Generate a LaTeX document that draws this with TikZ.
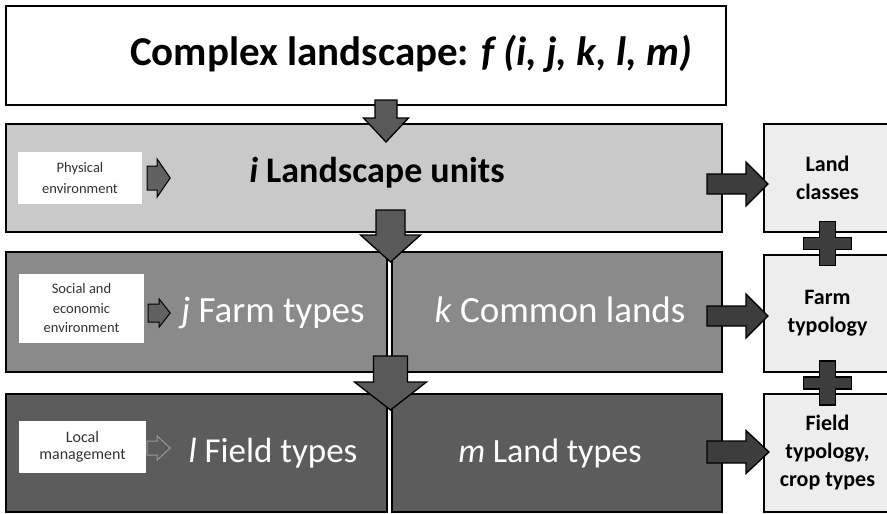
\documentclass[tikz,border=0pt]{standalone}
\usepackage{fontspec}
\setmainfont{Carlito}
\usepackage{tikz}
\usetikzlibrary{positioning, calc}

\newcommand{\blockdown}[6]{%
    \draw[#6] let \p1=(#1), \p2=(#2) in
        (\x2-#3,\y1) -- (\x2+#3,\y1) -- (\x2+#3,\y2+#5) -- (\x2+#4,\y2+#5)
        -- (\x2,\y2) -- (\x2-#4,\y2+#5) -- (\x2-#3,\y2+#5) -- cycle;}
\newcommand{\blockright}[6]{%
    \draw[#6] let \p1=(#1), \p2=(#2) in
        (\x1,\y2+#3) -- (\x2-#5,\y2+#3) -- (\x2-#5,\y2+#4) -- (\x2,\y2)
        -- (\x2-#5,\y2-#4) -- (\x2-#5,\y2-#3) -- (\x1,\y2-#3) -- cycle;}

\tikzset{
    plussign/.pic={
        \draw[line width=1.3pt, fill=black!76] (-8,-22) -- (8,-22) -- (8,-6) -- (24,-6)
            -- (24,6) -- (8,6) -- (8,22) -- (-8,22) -- (-8,6) -- (-24,6) -- (-24,-6)
            -- (-8,-6) -- cycle;
    }
}

\begin{document}
\begin{tikzpicture}[x=1pt, y=-1pt
    , box/.style={draw, line width=2pt, anchor=north west, inner sep=0pt}
    , tag/.style={fill=white, inner sep=0pt, align=center, text=black!80,
        font=\fontsize{14.5}{19.5}\selectfont}
    , outbox/.style={box, fill=black!7, align=center, font=\bfseries\fontsize{22}{28}\selectfont}
    , downarr/.style={draw, line width=1.3pt, fill=black!65}
    , sidearr/.style={draw, line width=1.3pt, fill=black!76}
    , smallarr/.style={draw, line width=1pt, fill=black!62}
    ]

    \useasboundingbox (0,0) rectangle (887,514);
    \clip (0,0) rectangle (887,514);
    \fill[white] (0,0) rectangle (887,514);

    \node[box, fill=white, minimum width=720pt, minimum height=99pt] (top) at (5,5) {};
    \node[box, fill=black!21, minimum width=716pt, minimum height=108pt] (units) at (5,123) {};
    \node[box, fill=black!46, minimum width=381pt, minimum height=120pt] (farm) at (5,251) {};
    \node[box, fill=black!46, minimum width=330pt, minimum height=120pt] (common) at (391,251) {};
    \node[box, fill=black!64, minimum width=381pt, minimum height=118pt] (field) at (5,393) {};
    \node[box, fill=black!64, minimum width=330pt, minimum height=118pt] (landt) at (391,393) {};

    \node[outbox, minimum width=127pt, minimum height=108pt] (classes) at (763,123) {Land\\classes};
    \node[outbox, minimum width=127pt, minimum height=117pt] (typo) at (763,254) {Farm\\typology};
    \node[outbox, minimum width=127pt, minimum height=118pt] (fieldtypo) at (763,393)
        {Field\\typology,\\crop types};

    \node[tag, minimum width=124pt, minimum height=52pt, font=\fontsize{14.5}{21}\selectfont]
        (phys) at (80,178) {Physical\\environment};
    \node[tag, minimum width=125pt, minimum height=69pt] (socio) at (81.5,308.5)
        {Social and\\economic\\environment};
    \node[tag, minimum width=127pt, minimum height=52pt, font=\fontsize{16}{17}\selectfont]
        (local) at (82.5,447) {Local\\management};

    \node[anchor=base, font=\bfseries\fontsize{41}{49}\selectfont] (title) at (411,65)
        {Complex landscape: \textit{f (i, j, k, l, m)}};
    \node[anchor=base, font=\bfseries\fontsize{36}{43}\selectfont] (unitstxt) at (377,182)
        {\textit{i} Landscape units};
    \node[anchor=base, text=white, font=\fontsize{37}{44}\selectfont] (farmtxt) at (273,322)
        {\textit{j} Farm types};
    \node[anchor=base, text=white, font=\fontsize{37}{44}\selectfont] (commontxt) at (560,322)
        {\textit{k} Common lands};
    \node[anchor=base, text=white, font=\fontsize{35}{40}\selectfont] (fieldtxt) at (273,462)
        {\textit{l} Field types};
    \node[anchor=base, text=white, font=\fontsize{34}{40}\selectfont] (landttxt) at (550,462)
        {\textit{m} Land types};

    % the drivers feeding each level
    \blockright{$(phys.east)+(5,0)$}{$(phys.east)+(28,0)$}{12pt}{19pt}{13pt}{smallarr}
    \blockright{$(socio.east)+(4,4.5)$}{$(socio.east)+(26,4.5)$}{9pt}{14pt}{11pt}{smallarr}
    \blockright{$(local.east)+(1,1)$}{$(local.east)+(24,1)$}{7pt}{12pt}{13pt}
        {smallarr, fill=black!64, draw=black!40}

    \blockdown{$(top.south)+(20,-6)$}{$(units.north)+(22,19)$}{11pt}{22.5pt}{24pt}{downarr}
    \blockdown{$(units.south)+(25,-23)$}{$(farm.north east)+(2.5,11)$}{14.5pt}{30pt}{27pt}{downarr}
    \blockdown{$(farm.south east)+(2.5,-17)$}{$(field.north east)+(2.5,17)$}{17pt}{36pt}{28pt}{downarr}

    \blockright{$(units.east)+(-16,0)$}{$(classes.west)+(5,6)$}{10pt}{22pt}{22pt}{sidearr}
    \blockright{$(common.east)+(-16,0)$}{$(typo.west)+(5,2.5)$}{10pt}{22pt}{22pt}{sidearr}
    \blockright{$(landt.east)+(-16,0)$}{$(fieldtypo.west)+(6,-1)$}{11pt}{21.5pt}{23pt}{sidearr}

    \pic at ($(classes.south)!0.5!(typo.north)$) {plussign};
    \pic at ($(typo.south)!0.5!(fieldtypo.north)$) {plussign};

\end{tikzpicture}
\end{document}
